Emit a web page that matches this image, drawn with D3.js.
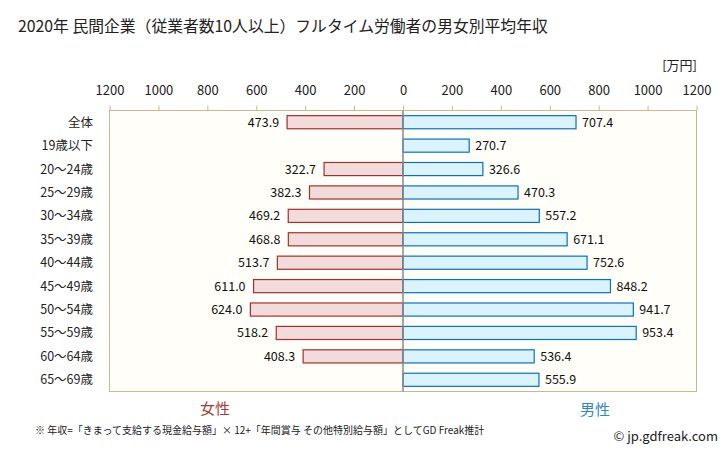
<!DOCTYPE html>
<html><head><meta charset="utf-8">
<script src="https://cdn.jsdelivr.net/npm/d3@7"></script>
<style>body{margin:0;background:#fff;}svg{display:block;font-family:"Noto Sans CJK JP","Noto Sans",sans-serif;}</style>
</head><body><svg id="c" width="728" height="451"></svg>
<script>
const categories = ["全体","19歳以下","20〜24歳","25〜29歳","30〜34歳","35〜39歳","40〜44歳","45〜49歳","50〜54歳","55〜59歳","60〜64歳","65〜69歳"];
const female = [473.9,null,322.7,382.3,469.2,468.8,513.7,611.0,624.0,518.2,408.3,null];
const male = [707.4,270.7,326.6,470.3,557.2,671.1,752.6,848.2,941.7,953.4,536.4,555.9];
const tickValues = [-1200,-1000,-800,-600,-400,-200,0,200,400,600,800,1000,1200];

const svg = d3.select("#c");
const L = 109.5, R = 696.5, T = 110.5, B = 391.5;
const x = d3.scaleLinear().domain([-1200,1200]).range([L,R]);
const y = d3.scaleBand().domain(categories).range([T,B]).paddingInner(0.44).paddingOuter(0.22);

svg.append("text").attr("x",18).attr("y",32).attr("font-size",15.8).attr("fill","#222")
  .text("2020年 民間企業（従業者数10人以上）フルタイム労働者の男女別平均年収");

svg.append("rect").attr("x",L).attr("y",T).attr("width",R-L).attr("height",B-T)
  .attr("fill","#fffef8").attr("stroke","#c8b88a").attr("stroke-width",1);

const ax = svg.append("g").attr("transform",`translate(0,${T})`)
  .call(d3.axisTop(x).tickValues(tickValues).tickSize(5).tickFormat(d=>Math.abs(d)));
ax.select(".domain").remove();
ax.selectAll("line").attr("stroke","#c8b88a");
ax.selectAll("text").attr("font-size",13).attr("fill","#222").attr("dy","-0.55em")
  .attr("font-family","Noto Sans CJK JP, sans-serif");

svg.append("text").attr("x",697).attr("y",70).attr("text-anchor","end").attr("font-size",13).attr("fill","#222").text("[万円]");

const rows = categories.map((c,i)=>({c,f:female[i],m:male[i]}));
const g = svg.append("g");
g.selectAll(".fb").data(rows.filter(d=>d.f!=null)).join("rect")
  .attr("x",d=>x(-d.f)).attr("y",d=>y(d.c)).attr("width",d=>x(0)-x(-d.f)).attr("height",y.bandwidth())
  .attr("fill","#f2dcdb").attr("stroke","#a3302c").attr("stroke-width",1.2);
g.selectAll(".mb").data(rows).join("rect")
  .attr("x",x(0)).attr("y",d=>y(d.c)).attr("width",d=>x(d.m)-x(0)).attr("height",y.bandwidth())
  .attr("fill","#dbf3fd").attr("stroke","#0a70c0").attr("stroke-width",1.2);
g.selectAll(".fl").data(rows.filter(d=>d.f!=null)).join("text")
  .attr("x",d=>x(-d.f)-8).attr("y",d=>y(d.c)+y.bandwidth()/2).attr("dy","0.36em")
  .attr("text-anchor","end").attr("font-size",12.5).attr("fill","#111").text(d=>d.f.toFixed(1));
g.selectAll(".ml").data(rows).join("text")
  .attr("x",d=>x(d.m)+6).attr("y",d=>y(d.c)+y.bandwidth()/2).attr("dy","0.36em")
  .attr("text-anchor","start").attr("font-size",12.5).attr("fill","#111").text(d=>d.m.toFixed(1));

svg.append("line").attr("x1",x(0)).attr("x2",x(0)).attr("y1",T).attr("y2",B).attr("stroke","#888").attr("stroke-width",1.5);

svg.selectAll(".cl").data(categories).join("text")
  .attr("x",93).attr("y",d=>y(d)+y.bandwidth()/2).attr("dy","0.36em").attr("text-anchor","end")
  .attr("font-size",12.5).attr("fill","#222").text(d=>d);

svg.append("text").attr("x",215).attr("y",414).attr("text-anchor","middle").attr("font-size",15).attr("fill","#a23e3a").text("女性");
svg.append("text").attr("x",595).attr("y",415).attr("text-anchor","middle").attr("font-size",15).attr("fill","#2f86c9").text("男性");

svg.append("text").attr("x",35).attr("y",434).attr("font-size",10).attr("fill","#222")
  .text("※ 年収=「きまって支給する現金給与額」× 12+「年間賞与 その他特別給与額」としてGD Freak推計");
svg.append("text").attr("x",718).attr("y",441).attr("text-anchor","end").attr("font-size",13).attr("fill","#222").text("© jp.gdfreak.com");
</script></body></html>
